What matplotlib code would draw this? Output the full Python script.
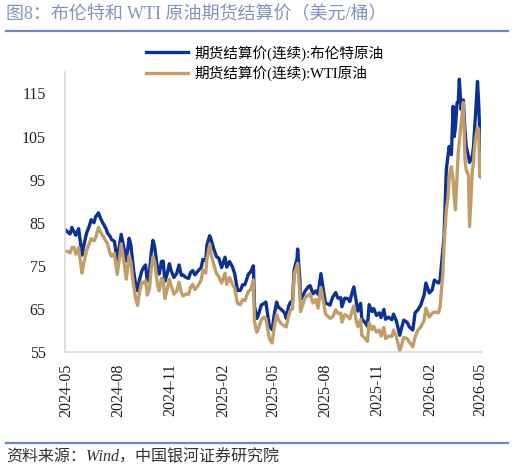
import pandas as pd
import matplotlib
matplotlib.use("Agg")
import matplotlib.pyplot as plt
import matplotlib.dates as mdates
from matplotlib.lines import Line2D

# 期货结算价(连续), 美元/桶
dates = [
    "2024-05-07", "2024-05-10", "2024-05-14", "2024-05-17", "2024-05-21", "2024-05-24",
    "2024-05-29", "2024-05-31", "2024-06-04", "2024-06-07", "2024-06-12", "2024-06-17",
    "2024-06-20", "2024-06-25", "2024-06-28", "2024-07-03", "2024-07-05", "2024-07-10",
    "2024-07-16", "2024-07-19", "2024-07-24", "2024-07-26", "2024-07-31", "2024-08-05",
    "2024-08-09", "2024-08-12", "2024-08-16", "2024-08-21", "2024-08-26", "2024-08-29",
    "2024-09-03", "2024-09-06", "2024-09-10", "2024-09-13", "2024-09-17", "2024-09-20",
    "2024-09-24", "2024-09-27", "2024-10-01", "2024-10-04", "2024-10-07", "2024-10-10",
    "2024-10-15", "2024-10-18", "2024-10-22", "2024-10-25", "2024-10-28", "2024-11-01",
    "2024-11-05", "2024-11-08", "2024-11-13", "2024-11-18", "2024-11-22", "2024-11-26",
    "2024-11-29", "2024-12-04", "2024-12-09", "2024-12-12", "2024-12-16", "2024-12-20",
    "2024-12-24", "2024-12-31", "2025-01-03", "2025-01-08", "2025-01-10", "2025-01-15",
    "2025-01-17", "2025-01-22", "2025-01-27", "2025-01-31", "2025-02-05", "2025-02-11",
    "2025-02-14", "2025-02-19", "2025-02-24", "2025-02-28", "2025-03-05", "2025-03-10",
    "2025-03-14", "2025-03-18", "2025-03-24", "2025-03-28", "2025-04-02", "2025-04-04",
    "2025-04-08", "2025-04-10", "2025-04-16", "2025-04-21", "2025-04-24", "2025-04-30",
    "2025-05-05", "2025-05-09", "2025-05-13", "2025-05-16", "2025-05-21", "2025-05-27",
    "2025-05-30", "2025-06-03", "2025-06-06", "2025-06-10", "2025-06-13", "2025-06-18",
    "2025-06-19", "2025-06-23", "2025-06-24", "2025-06-27", "2025-07-02", "2025-07-08",
    "2025-07-11", "2025-07-16", "2025-07-21", "2025-07-25", "2025-07-30", "2025-08-04",
    "2025-08-07", "2025-08-12", "2025-08-15", "2025-08-20", "2025-08-25", "2025-08-29",
    "2025-09-03", "2025-09-05", "2025-09-10", "2025-09-15", "2025-09-19", "2025-09-24",
    "2025-09-26", "2025-09-30", "2025-10-03", "2025-10-08", "2025-10-10", "2025-10-15",
    "2025-10-20", "2025-10-23", "2025-10-28", "2025-10-31", "2025-11-05", "2025-11-10",
    "2025-11-13", "2025-11-18", "2025-11-21", "2025-11-26", "2025-12-02", "2025-12-05",
    "2025-12-10", "2025-12-16", "2025-12-19", "2025-12-23", "2025-12-29", "2026-01-02",
    "2026-01-08", "2026-01-12", "2026-01-17", "2026-01-22", "2026-01-28", "2026-01-31",
    "2026-02-06", "2026-02-11", "2026-02-15", "2026-02-22", "2026-02-25", "2026-03-02",
    "2026-03-04", "2026-03-08", "2026-03-11", "2026-03-13", "2026-03-15", "2026-03-17",
    "2026-03-20", "2026-03-22", "2026-03-24", "2026-03-27", "2026-03-29", "2026-03-31",
    "2026-04-03", "2026-04-07", "2026-04-10", "2026-04-12", "2026-04-16", "2026-04-18",
    "2026-04-23", "2026-04-25", "2026-04-26", "2026-04-28", "2026-05-02", "2026-05-04",
    "2026-05-06", "2026-05-08",
]

brent = [
    83.2, 82.8, 82.4, 83.9, 82.9, 82.1, 83.6, 81.6, 77.5, 79.6, 82.6, 84.3,
    85.7, 85.0, 86.4, 87.3, 86.5, 85.1, 83.7, 82.6, 81.7, 81.1, 80.7, 76.3,
    79.7, 82.3, 79.7, 76.1, 81.4, 79.9, 73.8, 71.1, 69.2, 71.6, 73.7, 74.5,
    75.2, 71.5, 73.6, 78.1, 80.9, 79.4, 74.3, 73.1, 76.0, 76.1, 71.4, 73.1,
    75.5, 73.9, 72.3, 73.3, 75.2, 72.8, 72.9, 72.3, 72.1, 73.4, 73.9, 72.9,
    73.6, 74.6, 76.5, 76.2, 79.8, 82.0, 81.3, 79.0, 77.1, 76.8, 74.6, 77.0,
    74.7, 76.0, 74.8, 73.2, 69.3, 69.3, 70.6, 70.6, 73.0, 73.6, 75.0, 65.6,
    62.8, 63.3, 65.9, 66.3, 66.6, 61.1, 60.2, 63.9, 66.6, 65.4, 64.9, 64.1,
    62.8, 65.6, 66.5, 66.9, 74.2, 76.7, 78.9, 71.5, 67.1, 67.8, 69.1, 70.2,
    70.4, 68.5, 69.2, 68.4, 73.2, 68.8, 66.4, 66.1, 65.9, 67.8, 68.8, 67.5,
    67.6, 65.5, 67.5, 67.4, 66.7, 69.3, 70.1, 67.0, 64.5, 66.3, 62.7, 62.0,
    61.0, 66.0, 64.4, 65.1, 63.5, 64.1, 63.0, 64.9, 62.6, 63.1, 62.5, 63.8,
    62.2, 58.9, 60.5, 62.4, 61.9, 60.8, 60.1, 64.1, 64.8, 65.9, 68.3, 71.0,
    68.7, 69.4, 71.7, 71.0, 71.7, 78.7, 81.7, 97.3, 100.5, 102.7, 101.5, 100.8,
    112.0, 105.0, 107.0, 112.9, 113.0, 118.3, 111.3, 113.5, 106.0, 102.7, 100.5, 99.0,
    100.5, 102.7, 105.0, 109.0, 117.8, 112.9, 105.9, 101.3,
]

wti = [
    78.4, 78.3, 78.0, 79.2, 79.3, 77.7, 79.2, 77.0, 73.3, 75.5, 78.5, 80.3,
    81.3, 80.8, 81.5, 83.9, 83.2, 82.1, 80.8, 80.1, 77.6, 77.2, 77.9, 73.0,
    76.8, 80.1, 76.7, 71.9, 77.4, 75.9, 70.3, 67.7, 65.8, 68.7, 71.2, 71.0,
    71.6, 68.2, 69.8, 74.4, 77.1, 75.9, 70.6, 69.2, 72.1, 71.8, 67.4, 69.5,
    71.9, 70.4, 68.4, 69.2, 71.2, 68.8, 68.0, 68.5, 68.4, 70.0, 70.7, 69.5,
    70.1, 71.7, 74.0, 73.3, 76.6, 80.0, 77.9, 75.4, 73.2, 72.5, 71.0, 73.3,
    70.7, 72.3, 70.7, 69.8, 66.3, 66.0, 67.2, 66.9, 69.1, 69.4, 71.7, 62.0,
    59.6, 60.1, 62.5, 63.1, 62.8, 58.2, 57.1, 61.0, 63.7, 62.5, 61.6, 61.0,
    60.8, 63.4, 64.6, 65.0, 73.0, 75.1, 75.6, 68.5, 64.4, 65.5, 67.5, 68.3,
    68.5, 66.4, 67.2, 65.2, 70.0, 66.3, 63.9, 63.2, 62.8, 63.2, 64.8, 64.0,
    64.0, 61.9, 63.7, 63.3, 62.7, 65.0, 65.7, 62.4, 60.9, 62.6, 58.9, 58.3,
    57.5, 61.8, 60.2, 61.0, 59.6, 60.1, 58.7, 60.7, 58.1, 58.7, 58.6, 60.1,
    58.5, 55.3, 56.5, 58.4, 58.1, 57.3, 56.2, 58.5, 60.1, 60.8, 62.4, 65.2,
    63.1, 64.0, 64.3, 64.1, 65.5, 73.4, 80.0, 88.0, 91.0, 95.0, 97.3, 98.0,
    95.0, 91.0, 88.0, 96.0, 101.3, 104.0, 108.0, 112.9, 99.7, 97.3, 96.0, 84.1,
    97.3, 99.0, 101.3, 104.0, 107.1, 106.6, 95.7, 95.5,
]

yticks = [55, 65, 75, 85, 95, 105, 115]
xticks = ["2024-05-07", "2024-08-07", "2024-11-07", "2025-02-07", "2025-05-07",
          "2025-08-07", "2025-11-07", "2026-02-07", "2026-05-07"]

labels = ["期货结算价(连续):布伦特原油", "期货结算价(连续):WTI原油"]
title = "图8：布伦特和 WTI 原油期货结算价（美元/桶）"
source = "资料来源：Wind，中国银河证券研究院"

fonts = ["Liberation Serif", "Noto Sans CJK SC"]
plt.rcParams["font.family"] = fonts

c_brent = "#0c3193"
c_wti = "#c19d69"
c_deco = "#7088bd"

df = pd.DataFrame({"date": pd.to_datetime(dates), "brent": brent, "wti": wti})

fig = plt.figure(figsize=(5.16, 4.70), dpi=100)
ax = fig.add_axes([0.126, 0.251, 0.806, 0.596])

ax.plot(df["date"], df["brent"], color=c_brent, lw=2.4, solid_joinstyle="round")
ax.plot(df["date"], df["wti"], color=c_wti, lw=2.4, solid_joinstyle="round")

ax.set_ylim(55, 120)
ax.set_yticks(yticks)
ax.set_xlim(pd.Timestamp("2024-05-05"), pd.Timestamp("2026-05-08"))
ax.set_xticks(pd.to_datetime(xticks))
ax.xaxis.set_major_formatter(mdates.DateFormatter("%Y-%m"))
for lab in ax.get_xticklabels():
    lab.set_rotation(90)

ax.tick_params(axis="both", length=0, labelsize=11.5, colors="#222222")
ax.tick_params(axis="y", pad=14)
ax.tick_params(axis="x", pad=8)
for s in ["top", "right"]:
    ax.spines[s].set_visible(False)
for s in ["left", "bottom"]:
    ax.spines[s].set_color("#d9d9d9")
    ax.spines[s].set_linewidth(1.2)

handles = [Line2D([], [], color=c_brent, lw=2.4), Line2D([], [], color=c_wti, lw=2.4)]
fig.legend(handles, labels, loc="upper left", bbox_to_anchor=(0.283, 0.904),
           frameon=False, fontsize=10.5, handlelength=2.9, handletextpad=0.4,
           labelspacing=0.32, borderpad=0, borderaxespad=0)

# header and footer
fig.text(0.012, 0.970, title, fontsize=13, color="#8193be", va="center", ha="left")
fig.add_artist(Line2D([0.012, 0.985], [0.934, 0.934], transform=fig.transFigure,
                      color=c_deco, lw=1.6))
fig.add_artist(Line2D([0.012, 0.985], [0.058, 0.058], transform=fig.transFigure,
                      color=c_deco, lw=1.6))
fig.text(0.012, 0.027, source, fontsize=11.5, color="#333333", va="center",
         ha="left", style="italic")

fig.savefig("out.png", dpi=100)
